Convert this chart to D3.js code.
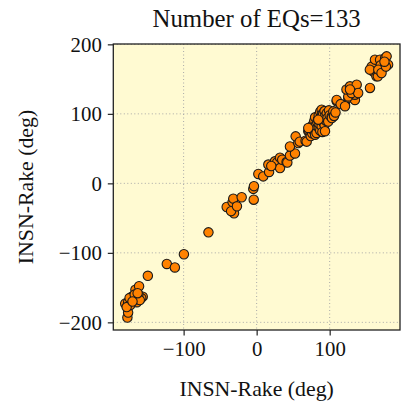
<!DOCTYPE html>
<html><head><meta charset="utf-8">
<script src="https://cdn.jsdelivr.net/npm/d3@7"></script>
<style>html,body{margin:0;padding:0;background:#fff;}
svg text{font-family:"Liberation Serif","Times New Roman",serif;}</style>
</head><body>
<script>
const titleText = "Number of EQs=133";
const xLabel = "INSN-Rake (deg)";
const yLabel = "INSN-Rake (deg)";
const xTicks = [-100, 0, 100];
const yTicks = [-200, -100, 0, 100, 200];
// reference rake (x) and INSN rake (y), degrees
const lowCluster = [[-177,-193],[-176,-186],[-180,-173],[-176,-171],[-171,-163],[-166,-153],[-161,-148],[-164,-171],[-156,-163],[-158,-165],[-169,-167],[-174,-165],[-162,-160],[-149,-133],[-173,-175],[-167,-160],[-160,-168],[-178,-178],[-170,-170],[-163,-158]];
const midLow = [[-123,-116],[-112,-121],[-99.6,-102],[-66,-70.5]];
const nearZero = [[-41,-34],[-33,-27],[-32,-22],[-20.5,-20],[-31,-43],[-35,-40],[-27,-33],[-4,-23.5],[-4.6,-8],[-3.7,-4]];
const lowPos = [[2.3,13.5],[9,10],[17,16.4],[16,27],[25,31.7],[28,30],[32,22],[32,37],[35,34],[41,30.8],[42,30],[45.6,40],[52.5,43],[45.6,53],[57,58],[53.4,67.6],[59,60],[67,61.4],[68.5,60],[20,25]];
const denseCluster = [[70.7,75],[72,75],[74,68],[75,82],[76,72],[77,82],[78,86],[78,76],[79,90],[80,70],
  [80,95],[81,84],[82,78],[83,88],[82,72.5],[84,92],[85,98],[85,80],[86,85],[87,103],
  [87,76],[88,90],[88,95],[89,106],[89,82],[90,100],[90,74],[91,99],[91,88],[92,93],
  [93,84],[93,104],[94,97],[95,90],[93.6,75],[96,101],[97,94],[98,89],[99,105],[84.4,91.6],
  [100,98],[102.7,96.4],[103,94],[105,103.6],[106,97],[108,102],[70.7,79.7]];
const upperMid = [[109.6,118],[121,113],[109.6,120],[125.5,123],[134.6,120],[125.5,125],[134.6,127.6],[123,135],[127.8,139.6],[137,142],[130,130],[139,130],[127.8,135],[115,114],[121,111]];
const topCluster = [[155.2,137.3],[157.5,168],[159.7,161],[164,154],[166,154],[162,178],[169,178],[176,180.4],[178,182.7],[180,170.8],[173.4,166],[170,170],[155,163.6],[166.6,163.6],[171,158.8],[177,168],[175,175]];

const points = [].concat(lowCluster, midLow, nearZero, lowPos, denseCluster, upperMid, topCluster);

const W = 405, H = 407;
const L = 113.3, R = 400, T = 44, B = 330;
const FONT = "'Liberation Serif','Times New Roman',serif";
const svg = d3.select("body").append("svg").attr("width", W).attr("height", H)
  .attr("font-family", FONT);

const x = d3.scaleLinear().domain([-196.3, 196.3]).range([L, R]);
const y = d3.scaleLinear().domain([-211, 200.5]).range([B, T]);

svg.append("rect").attr("x", L).attr("y", T).attr("width", R - L).attr("height", B - T).attr("fill", "#fffad2");

// grid
const g = svg.append("g");
g.selectAll("line.gx").data(xTicks).join("line")
  .attr("x1", d => x(d)).attr("x2", d => x(d)).attr("y1", T).attr("y2", B)
  .attr("stroke", "#a8a8a8").attr("stroke-width", 1).attr("stroke-dasharray", "1,2.5");
g.selectAll("line.gy").data(yTicks).join("line")
  .attr("y1", d => y(d)).attr("y2", d => y(d)).attr("x1", L).attr("x2", R)
  .attr("stroke", "#a8a8a8").attr("stroke-width", 1).attr("stroke-dasharray", "1,2.5");

// points
svg.append("g").selectAll("circle").data(points).join("circle")
  .attr("cx", d => x(d[0])).attr("cy", d => y(d[1])).attr("r", 4.7)
  .attr("fill", "#ff8200").attr("stroke", "#1a1a1a").attr("stroke-width", 1.1);

// axes
const fmt = d => d < 0 ? "\u2212" + Math.abs(d) : String(d);
const xAxis = d3.axisBottom(x).tickValues(xTicks).tickSize(5.5).tickPadding(6).tickFormat(fmt);
const yAxis = d3.axisLeft(y).tickValues(yTicks).tickSize(5.5).tickPadding(6).tickFormat(fmt);
const gx = svg.append("g").attr("transform", `translate(0,${B})`).call(xAxis);
const gy = svg.append("g").attr("transform", `translate(${L},0)`).call(yAxis);
[gx, gy].forEach(a => {
  a.attr("font-family", FONT).attr("font-size", 20.8);
  a.select(".domain").remove();
  a.selectAll(".tick line").attr("stroke", "#222").attr("stroke-width", 1.2);
  a.selectAll(".tick text").attr("fill", "#111");
});

// frame
svg.append("rect").attr("x", L).attr("y", T).attr("width", R - L).attr("height", B - T)
  .attr("fill", "none").attr("stroke", "#222").attr("stroke-width", 1.3);

svg.append("text").attr("x", (L + R) / 2).attr("y", 26.5).attr("text-anchor", "middle")
  .attr("font-size", 24.8).attr("fill", "#111").text(titleText);
svg.append("text").attr("x", (L + R) / 2).attr("y", 395.5).attr("text-anchor", "middle")
  .attr("font-size", 21.8).attr("fill", "#111").text(xLabel);
svg.append("text").attr("transform", `translate(33,${(T + B) / 2}) rotate(-90)`).attr("text-anchor", "middle")
  .attr("font-size", 21.8).attr("fill", "#111").text(yLabel);
</script>
</body></html>
